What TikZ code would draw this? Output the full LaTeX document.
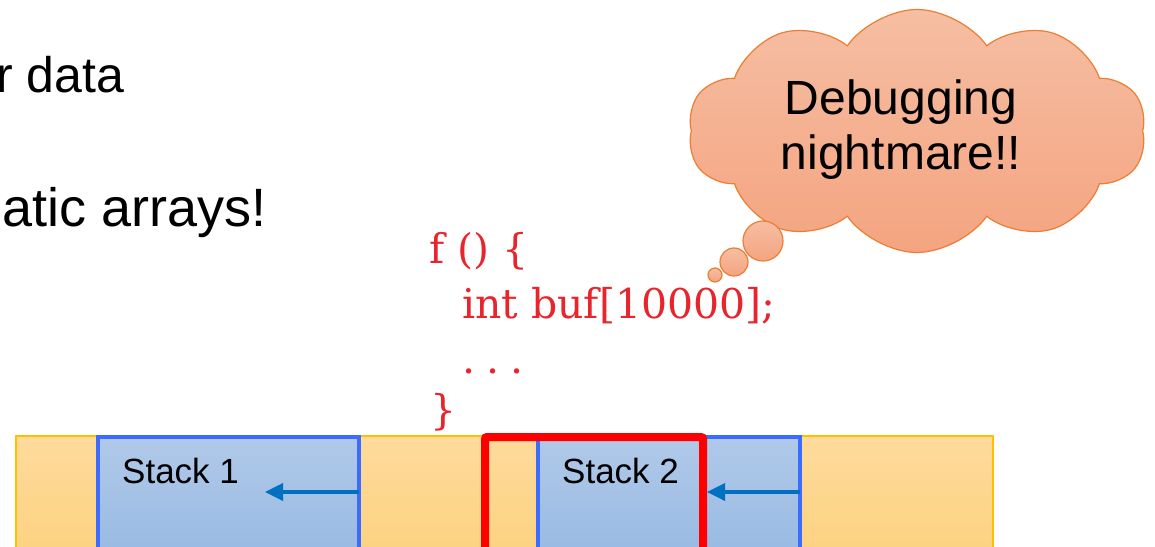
\documentclass[tikz,border=0pt]{standalone}
\usepackage{fontspec}
\setmainfont{Liberation Sans}
\newfontfamily\codefont{DejaVu Serif}
\usetikzlibrary{shapes.symbols,arrows.meta}
\definecolor{barTop}{HTML}{FEDB9C}
\definecolor{barBot}{HTML}{FCD07C}
\definecolor{barLine}{HTML}{FFC000}
\definecolor{stkTop}{HTML}{B1C9E9}
\definecolor{stkBot}{HTML}{93B7E1}
\definecolor{stkLine}{HTML}{3C6CFF}
\definecolor{arrBlue}{HTML}{0070C0}
\definecolor{codeRed}{HTML}{E8242C}
\definecolor{cloudTop}{HTML}{F6BEA3}
\definecolor{cloudBot}{HTML}{F4A480}
\definecolor{cloudLine}{HTML}{ED7D31}
\tikzset{
  barbox/.style={rectangle, draw=barLine, line width=1.2pt, top color=barTop, bottom color=barBot, inner sep=0pt, outer sep=0pt},
  stackbox/.style={rectangle, draw=stkLine, line width=3.2pt, top color=stkTop, bottom color=stkBot, inner sep=0pt, outer sep=0pt},
  redbox/.style={rectangle, draw=red, line width=8pt, rounded corners=2pt, inner sep=0pt, outer sep=0pt},
  stklabel/.style={inner sep=0pt, font=\fontsize{35}{42}\selectfont},
  bigtext/.style={inner sep=0pt, font=\fontsize{48}{55}\selectfont},
  codetext/.style={inner sep=0pt, text=codeRed, font=\codefont\fontsize{41}{54}\selectfont},
  pusharrow/.style={draw=arrBlue, line width=3.5pt, -{Triangle[length=18pt,width=17pt]}},
  cloudshape/.style={cloud, cloud puffs=10, cloud puff arc=110, aspect=1.9, draw=cloudLine, line width=1.2pt, top color=cloudTop, bottom color=cloudBot, inner sep=0pt},
  bubble/.style={circle, draw=cloudLine, line width=1.2pt, top color=cloudTop, bottom color=cloudBot, inner sep=0pt}
}
\begin{document}
\begin{tikzpicture}[x=1pt,y=-1pt]
\useasboundingbox (0,0) rectangle (1155,546);
\clip (0,0) rectangle (1155,546);
% bullet text fragments
\node[bigtext, anchor=base west, font=\fontsize{50}{55}\selectfont] (t1) at (-4,92) {r data};
\node[bigtext, anchor=base west, font=\fontsize{54}{60}\selectfont] (t2) at (2,226) {atic arrays!};
% memory bar
\node[barbox, anchor=north west, minimum width=977pt, minimum height=140pt] (bar) at (16,436) {};
\node[stackbox, anchor=north west, minimum width=261pt, minimum height=140pt] (s1) at (98,437) {};
\node[stackbox, anchor=north west, minimum width=262pt, minimum height=140pt] (s2) at (538,437) {};
\node[stklabel, anchor=base west] (l1) at (122,483) {Stack 1};
\node[stklabel, anchor=base west] (l2) at (562,483) {Stack 2};
\coordinate (a1) at (265,492);
\coordinate (a2) at (707,492);
\draw[pusharrow] (s1.east |- a1) -- (a1);
\draw[pusharrow] (s2.east |- a2) -- (a2);
\node[redbox, anchor=north west, minimum width=218pt, minimum height=140pt] (rb) at (485,437) {};
% code
\node[codetext, anchor=base west] (c1) at (429,263) {f () \{};
\node[codetext, anchor=base west] (c2) at (462,318) {int buf[10000];};
\node[codetext, anchor=base west] (c3) at (462,373) {.\kern 11pt.\kern 11pt.};
\node[codetext, anchor=base west] (c4) at (430,424) {\}};
% thought cloud
\node[cloudshape, minimum width=458pt, minimum height=243pt] (cl) at (917,131) {};
\node[bubble, minimum size=40pt] (b1) at (763,241) {};
\node[bubble, minimum size=28pt] (b2) at (734,262) {};
\node[bubble, minimum size=14pt] (b3) at (715,275) {};
\node[bigtext, align=center] (msg) at (901,130) {Debugging\\nightmare!!};
\end{tikzpicture}
\end{document}
